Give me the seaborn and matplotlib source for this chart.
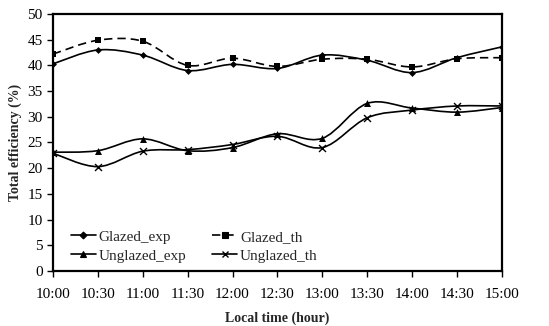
import numpy as np
import pandas as pd
import matplotlib
matplotlib.use("Agg")
import matplotlib.pyplot as plt
from matplotlib.path import Path
from matplotlib.patches import PathPatch
from matplotlib.lines import Line2D
import seaborn as sns

times = ["10:00", "10:30", "11:00", "11:30", "12:00", "12:30",
         "13:00", "13:30", "14:00", "14:30", "15:00"]
glazed_exp = [40.3, 43.0, 42.0, 39.0, 40.2, 39.4, 42.0, 41.0, 38.6, 41.5, 43.6]
glazed_th = [42.2, 44.9, 44.7, 40.0, 41.4, 39.8, 41.2, 41.2, 39.7, 41.3, 41.5]
unglazed_exp = [23.1, 23.4, 25.7, 23.4, 24.0, 26.7, 25.8, 32.6, 31.7, 30.9, 31.8]
unglazed_th = [22.9, 20.3, 23.3, 23.6, 24.6, 26.2, 24.0, 29.8, 31.3, 32.1, 32.1]

series = {
    "Glazed_exp": glazed_exp,
    "Glazed_th": glazed_th,
    "Unglazed_exp": unglazed_exp,
    "Unglazed_th": unglazed_th,
}
styles = {
    "Glazed_exp": dict(marker="D", ms=3.5, ls="-", mew=0.8),
    "Glazed_th": dict(marker="s", ms=5, ls=(0, (5, 3)), mew=0.8),
    "Unglazed_exp": dict(marker="^", ms=5, ls="-", mew=0.8),
    "Unglazed_th": dict(marker="x", ms=5, ls="-", mew=1.0),
}

sns.set_theme(style="white")
plt.rcParams["font.family"] = ["Liberation Serif", "DejaVu Serif"]

fig = plt.figure(figsize=(5.49, 3.26), dpi=100)
ax = fig.add_axes([0.0965, 0.169, 0.8175, 0.788])

xs = np.arange(len(times))
df = pd.DataFrame({"x": np.tile(xs, 4),
                   "y": np.concatenate([series[k] for k in series]),
                   "series": np.repeat(list(series.keys()), len(times))})

# markers via seaborn
for name in series:
    st = styles[name]
    sub = df[df["series"] == name]
    sns.scatterplot(data=sub, x="x", y="y", ax=ax, marker=st["marker"],
                    color="black", s=st["ms"] ** 2, linewidth=st["mew"] if st["marker"] == "x" else 0,
                    edgecolor="black", legend=False, zorder=3)


def smooth_path(x, y, t=1.0 / 6):
    x = np.asarray(x, float)
    y = np.asarray(y, float)
    verts = [(x[0], y[0])]
    codes = [Path.MOVETO]
    n = len(x)
    for i in range(n - 1):
        x0, y0 = (x[i - 1], y[i - 1]) if i > 0 else (x[i], y[i])
        x3, y3 = (x[i + 2], y[i + 2]) if i + 2 < n else (x[i + 1], y[i + 1])
        c1 = (x[i] + (x[i + 1] - x0) * t, y[i] + (y[i + 1] - y0) * t)
        c2 = (x[i + 1] - (x3 - x[i]) * t, y[i + 1] - (y3 - y[i]) * t)
        verts += [c1, c2, (x[i + 1], y[i + 1])]
        codes += [Path.CURVE4] * 3
    return Path(verts, codes)


for name, vals in series.items():
    st = styles[name]
    p = PathPatch(smooth_path(xs, vals), facecolor="none", edgecolor="black",
                  lw=1.2, linestyle=st["ls"], zorder=2)
    ax.add_patch(p)

ax.set_xlim(0, 10)
ax.set_ylim(0, 50)
ax.set_yticks(range(0, 51, 5))
ax.set_xticks(xs)
ax.set_xticklabels(times)
ax.tick_params(axis="both", labelsize=11, colors="black", length=4, width=1,
               direction="out", left=True, bottom=True)
ax.tick_params(axis="x", pad=8.5)
for sp in ax.spines.values():
    sp.set_visible(True)
    sp.set_color("black")
    sp.set_linewidth(1.6)
ax.set_xlabel("Local time (hour)", fontsize=10, fontweight="bold", labelpad=7.5)
ax.set_ylabel("Total efficiency (%)", fontsize=10, fontweight="bold", labelpad=4)

handles = [Line2D([], [], color="black", lw=1.2, linestyle=styles[n]["ls"],
                  marker=styles[n]["marker"], ms=styles[n]["ms"],
                  mew=styles[n]["mew"]) for n in series]
order = [0, 2, 1, 3]
ax.legend([handles[i] for i in order], [list(series)[i] for i in order],
          loc="lower left", ncol=2, frameon=False, fontsize=11,
          handlelength=1.6, handletextpad=0.2, columnspacing=1.7,
          labelspacing=0.35, bbox_to_anchor=(0.01, -0.022))

fig.savefig("out.png", dpi=100)
